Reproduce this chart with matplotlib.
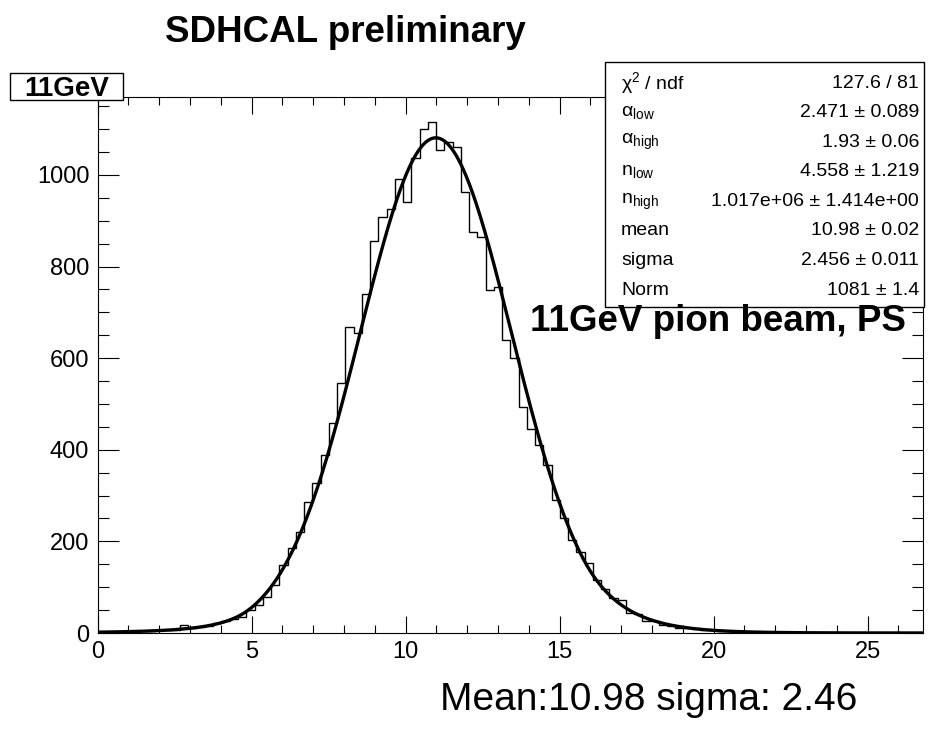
import matplotlib.pyplot as plt
import numpy as np
from matplotlib.patches import Rectangle

plt.rcParams['font.family'] = ['Liberation Sans', 'DejaVu Sans']
plt.rcParams['mathtext.fontset'] = 'custom'
plt.rcParams['mathtext.rm'] = 'Liberation Sans'
plt.rcParams['mathtext.it'] = 'Liberation Sans:italic'
plt.rcParams['mathtext.bf'] = 'Liberation Sans:bold'

# histogram: 100 bins between 0 and 26.8
x_low, x_high, n_bins = 0.0, 26.8, 100
counts = [1, 3, 2, 4, 3, 5, 4, 6, 7, 7,
          18, 11, 13, 16, 21, 26, 31, 36, 50, 61,
          79, 105, 148, 185, 221, 285, 327, 388, 458, 545,
          668, 655, 740, 855, 908, 926, 990, 940, 1038, 1101,
          1115, 1054, 1071, 1060, 962, 876, 865, 748, 755, 639,
          600, 493, 446, 410, 366, 290, 250, 204, 177, 152,
          116, 95, 76, 72, 43, 41, 27, 27, 17, 15,
          12, 10, 8, 7, 6, 4, 4, 3, 2, 2,
          2, 1, 1, 1, 0, 1, 0, 0, 0, 0,
          0, 0, 0, 0, 0, 0, 0, 0, 0, 0]

# fit parameters (double sided crystal ball)
alpha_low = 2.471
alpha_high = 1.93
n_low = 4.558
n_high = 1.017e6
mean = 10.98
sigma = 2.456
norm = 1081

stat_names = ['χ$^{2}$ / ndf', 'α$_{\\mathrm{low}}$', 'α$_{\\mathrm{high}}$',
              'n$_{\\mathrm{low}}$', 'n$_{\\mathrm{high}}$', 'mean', 'sigma', 'Norm']
stat_values = ['127.6 / 81', '2.471 ± 0.089', '1.93 ± 0.06', '4.558 ± 1.219',
               '1.017e+06 ± 1.414e+00', '10.98 ± 0.02', '2.456 ± 0.011', '1081 ± 1.4']


def dscb(x):
    t = (x - mean) / sigma
    y = np.exp(-0.5 * t ** 2)
    lo = t < -alpha_low
    a, n = alpha_low, n_low
    y[lo] = np.exp(-0.5 * a ** 2) * ((n / a) / (n / a - a - t[lo])) ** n
    hi = t > alpha_high
    a, n = alpha_high, n_high
    y[hi] = np.exp(-0.5 * a ** 2) * ((n / a) / (n / a - a + t[hi])) ** n
    return norm * y


W, H = 951, 736
fig = plt.figure(figsize=(W / 100, H / 100), dpi=100)
ax = fig.add_axes([97.7 / W, 1 - 633 / H, (923 - 97.7) / W, (633 - 96.7) / H])

edges = np.linspace(x_low, x_high, n_bins + 1)
ax.stairs(counts, edges, color='black', lw=1.0)

xf = np.linspace(x_low, x_high, 1000)
ax.plot(xf, dscb(xf), color='black', lw=2.4)

ax.set_xlim(x_low, x_high)
ax.set_ylim(0, 1.05 * max(counts))
ax.set_xticks(np.arange(0, 26, 5))
ax.set_xticks(np.arange(0, 27, 1), minor=True)
ax.set_yticks(np.arange(0, 1001, 200))
ax.set_yticks(np.arange(0, 1151, 50), minor=True)
ax.tick_params(which='both', direction='in', top=True, right=True, width=0.8, labelsize=17)
ax.tick_params(axis='x', which='major', length=12, pad=6)
ax.tick_params(axis='x', which='minor', length=6)
ax.tick_params(axis='y', which='major', length=15, pad=6)
ax.tick_params(axis='y', which='minor', length=8)
for s in ax.spines.values():
    s.set_linewidth(0.8)

# stats box
fig.patches.append(Rectangle((605 / W, 1 - 307 / H), (924 - 605) / W, (307 - 62) / H,
                             transform=fig.transFigure, facecolor='white',
                             edgecolor='black', lw=1.0, zorder=5))
for i, (nm, val) in enumerate(zip(stat_names, stat_values)):
    yy = 1 - (83 + 29.6 * i) / H
    fig.text(621 / W, yy, nm, fontsize=14, ha='left', va='center', zorder=6)
    fig.text(919 / W, yy, val, fontsize=14, ha='right', va='center', zorder=6)

# label box
fig.patches.append(Rectangle((10 / W, 1 - 100 / H), 113 / W, 27 / H,
                             transform=fig.transFigure, facecolor='white',
                             edgecolor='black', lw=1.0, zorder=5))
fig.text(67 / W, 1 - 89 / H, '11GeV', fontsize=20, weight='bold', ha='center', va='center',
         zorder=6)

fig.text(345 / W, 1 - 32 / H, 'SDHCAL preliminary', fontsize=26.5, weight='bold',
         ha='center', va='center')
fig.text(530 / W, 1 - 321 / H, '11GeV pion beam, PS', fontsize=26.5, weight='bold',
         ha='left', va='center', zorder=6)
fig.text(649 / W, 1 - 700 / H, 'Mean:10.98 sigma: 2.46', fontsize=28,
         ha='center', va='center')

fig.savefig('out.png', dpi=100)
